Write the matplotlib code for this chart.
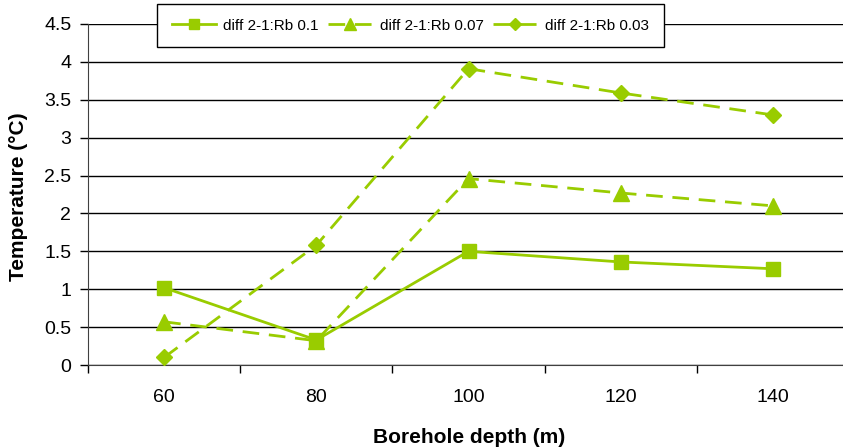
import matplotlib.pyplot as plt

# data
depths = ['60', '80', '100', '120', '140']
rb_01 = [1.02, 0.33, 1.50, 1.36, 1.27]
rb_007 = [0.57, 0.32, 2.46, 2.27, 2.10]
rb_003 = [0.10, 1.58, 3.91, 3.59, 3.30]
labels = ['diff 2-1:Rb 0.1', 'diff 2-1:Rb 0.07', 'diff 2-1:Rb 0.03']
yticks = [0, 0.5, 1, 1.5, 2, 2.5, 3, 3.5, 4, 4.5]

green = '#99CC00'
plt.rcParams['font.family'] = ['Liberation Sans', 'DejaVu Sans']

fig = plt.figure(figsize=(8.43, 4.48), dpi=100)
ax = fig.add_axes([88 / 843, 83 / 448, 761 / 843, 341 / 448])

x = list(range(len(depths)))
ax.plot(x, rb_01, color=green, lw=2, marker='s', ms=10, label=labels[0], zorder=3)
ax.plot(x, rb_007, color=green, lw=2, ls=(0, (6, 3.5)), marker='^', ms=11,
        label=labels[1], zorder=3)
ax.plot(x, rb_003, color=green, lw=2, ls=(0, (6, 3.5)), marker='D', ms=8.5,
        label=labels[2], zorder=3)

ax.set_xlim(-0.5, len(depths) - 0.5)
ax.set_ylim(0, 4.5)
ax.set_yticks(yticks)
ax.set_yticklabels([f'{v:g}' for v in yticks])
ax.set_xticks(x)
ax.set_xticklabels(depths)
ax.set_xticks([i - 0.5 for i in range(len(depths) + 1)], minor=True)
ax.tick_params(axis='x', which='major', length=0, pad=17, labelsize=14)
ax.tick_params(axis='x', which='minor', length=6, width=1, direction='out')
ax.tick_params(axis='y', length=6, width=1, pad=6, labelsize=14)

ax.grid(axis='y', color='black', lw=1)
ax.set_axisbelow(True)
for s in ['top', 'right']:
    ax.spines[s].set_visible(False)
for s in ['left', 'bottom']:
    ax.spines[s].set_color('#404040')

ax.set_ylabel('Temperature (°C)', fontsize=15, fontweight='bold', va='center')
ax.yaxis.set_label_coords(-(88 - 19) / 761, (365 - 197) / 341)
ax.set_xlabel('Borehole depth (m)', fontsize=15, fontweight='bold', va='center')
ax.xaxis.set_label_coords((469 - 88) / 761, -(437 - 365) / 341)

leg = fig.legend(loc='upper left', bbox_to_anchor=(157 / 843, 1 - 4 / 448), ncol=3,
                 fontsize=11, frameon=True, fancybox=False, edgecolor='black',
                 framealpha=1, handlelength=2.9, columnspacing=0.6, handletextpad=0.5,
                 borderpad=0.95, borderaxespad=0, markerscale=0.75)
leg.get_frame().set_linewidth(1)

fig.savefig('out.png', dpi=100)
